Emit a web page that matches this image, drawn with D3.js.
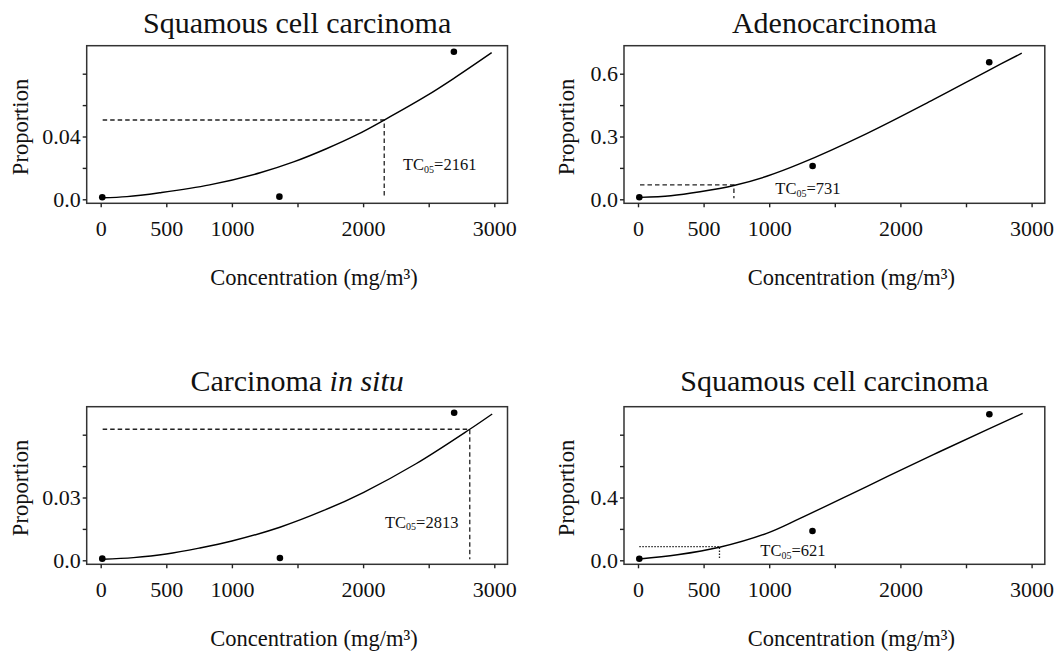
<!DOCTYPE html>
<html>
<head>
<meta charset="utf-8">
<script src="https://cdn.jsdelivr.net/npm/d3@7"></script>
<style>
  body { margin: 0; background: #fff; }
  text { font-family: "Liberation Serif", "Times New Roman", serif; fill: #111; }
</style>
</head>
<body>
<div id="chart"></div>
<script>
// shared x axis
let concTicks = [0, 500, 1000, 1500, 2000, 2500, 3000]
let concTickLabels = ['0', '500', '1000', '', '2000', '', '3000']

// panel 1 - squamous cell carcinoma (top left)
let scc1ObsConc = [12, 1362, 2692]
let scc1ObsProp = [0.0013, 0.0017, 0.094]
let scc1FitConc = [15, 200, 450, 830, 1215, 1470, 1720, 1950, 2161, 2485, 2700, 2980]
let scc1FitProp = [0.001, 0.0017, 0.0042, 0.0092, 0.0169, 0.0238, 0.0322, 0.041, 0.0505, 0.066, 0.0775, 0.0934]
let scc1YTicks = [0, 0.02, 0.04, 0.06, 0.08]
let scc1YLabels = ['0.0', '', '0.04', '', '']

// panel 2 - adenocarcinoma (top right)
let adenoObsConc = [10, 1331, 2677]
let adenoObsProp = [0.0095, 0.159, 0.655]
let adenoFitConc = [15, 250, 473, 731, 981, 1235, 1743, 2251, 2670, 2925]
let adenoFitProp = [0.009, 0.017, 0.036, 0.066, 0.11, 0.17, 0.314, 0.476, 0.615, 0.698]
let adenoYTicks = [0, 0.15, 0.3, 0.45, 0.6]
let adenoYLabels = ['0.0', '', '0.3', '', '0.6']

// panel 3 - carcinoma in situ (bottom left)
let cisObsConc = [12, 1366, 2694]
let cisObsProp = [0.0008, 0.0011, 0.0705]
let cisFitConc = [15, 250, 500, 750, 1000, 1366, 1700, 2005, 2400, 2813, 2984]
let cisFitProp = [0.0005, 0.0013, 0.003, 0.0058, 0.0092, 0.0158, 0.0238, 0.0325, 0.046, 0.0626, 0.0699]
let cisYTicks = [0, 0.015, 0.03, 0.045, 0.06]
let cisYLabels = ['0.0', '', '0.03', '', '']

// panel 4 - squamous cell carcinoma (bottom right)
let scc2ObsConc = [10, 1330, 2678]
let scc2ObsProp = [0.010, 0.187, 0.93]
let scc2FitConc = [10, 300, 621, 981, 1235, 1743, 2251, 2670, 2932]
let scc2FitProp = [0.008, 0.035, 0.083, 0.172, 0.267, 0.47, 0.673, 0.835, 0.936]
let scc2YTicks = [0, 0.2, 0.4, 0.6, 0.8]
let scc2YLabels = ['0.0', '', '0.4', '', '']

// TC05 values and the fitted proportion at that concentration
let tcValues = [2161, 731, 2813, 621]
let tcLevels = [0.0505, 0.069, 0.0626, 0.0866]

let panels = [
  { title: ['Squamous cell carcinoma'], obsX: scc1ObsConc, obsY: scc1ObsProp, fitX: scc1FitConc, fitY: scc1FitProp,
    yTicks: scc1YTicks, yLabels: scc1YLabels, ox: 0, oy: 0, titleY: 33, dash: '4.5,3', tcPos: [403, 170] },
  { title: ['Adenocarcinoma'], obsX: adenoObsConc, obsY: adenoObsProp, fitX: adenoFitConc, fitY: adenoFitProp,
    yTicks: adenoYTicks, yLabels: adenoYLabels, ox: 537.3, oy: 0, titleY: 33, dash: '4.5,3', tcPos: [238, 194.3] },
  { title: ['Carcinoma ', 'in situ'], obsX: cisObsConc, obsY: cisObsProp, fitX: cisFitConc, fitY: cisFitProp,
    yTicks: cisYTicks, yLabels: cisYLabels, ox: 0, oy: 361, titleY: 30, dash: '4.5,3', tcPos: [385, 166.7] },
  { title: ['Squamous cell carcinoma'], obsX: scc2ObsConc, obsY: scc2ObsProp, fitX: scc2FitConc, fitY: scc2FitProp,
    yTicks: scc2YTicks, yLabels: scc2YLabels, ox: 537.3, oy: 361, titleY: 30, dash: '1.5,1.5', tcPos: [223, 195] }
]

let width = 1062
let height = 652
let frame = { left: 86.7, top: 45.7, right: 507.5, bottom: 203.3 }

let svg = d3
  .select('#chart')
  .append('svg')
  .attr('width', width)
  .attr('height', height)

svg.append('rect').attr('width', width).attr('height', height).attr('fill', '#fff')

let xScale = d3.scaleLinear().domain([0, 3000]).range([100.7, 494.3])

panels.forEach((p, i) => {
  let g = svg.append('g').attr('transform', `translate(${p.ox},${p.oy})`)

  let yScale = d3
    .scaleLinear()
    .domain([0, p.yTicks[p.yTicks.length - 1]])
    .range([199.3, 73.7])

  // title
  let title = g
    .append('text')
    .attr('x', (frame.left + frame.right) / 2)
    .attr('y', p.titleY)
    .attr('text-anchor', 'middle')
    .style('font-size', '30px')
  p.title.forEach((t, j) => {
    title.append('tspan').text(t).style('font-style', j === 1 ? 'italic' : 'normal')
  })

  // frame
  g.append('rect')
    .attr('x', frame.left)
    .attr('y', frame.top)
    .attr('width', frame.right - frame.left)
    .attr('height', frame.bottom - frame.top)
    .attr('fill', 'none')
    .attr('stroke', '#333')
    .attr('stroke-width', 1.5)

  // axes
  let xAxis = d3
    .axisBottom(xScale)
    .tickValues(concTicks)
    .tickFormat((d, k) => concTickLabels[k])
    .tickSize(4)
    .tickPadding(13)

  let gx = g.append('g').attr('transform', `translate(0,${frame.bottom})`).call(xAxis)
  gx.select('.domain').remove()

  let yAxis = d3
    .axisLeft(yScale)
    .tickValues(p.yTicks)
    .tickFormat((d, k) => p.yLabels[k])
    .tickSize(4)
    .tickPadding(2)

  let gy = g.append('g').attr('transform', `translate(${frame.left},0)`).call(yAxis)
  gy.select('.domain').remove()

  g.selectAll('.tick line').attr('stroke', '#222').attr('stroke-width', 1.4)
  g.selectAll('.tick text')
    .style('font-family', '"Liberation Serif", serif')
    .style('font-size', '22px')
    .attr('fill', '#111')

  // axis titles
  g.append('text')
    .attr('x', 314)
    .attr('y', 285)
    .attr('text-anchor', 'middle')
    .style('font-size', '22.5px')
    .text('Concentration (mg/m³)')

  g.append('text')
    .attr('transform', `translate(${i % 2 === 0 ? 27.5 : 37},127) rotate(-90)`)
    .attr('text-anchor', 'middle')
    .style('font-size', '22.5px')
    .text('Proportion')

  // TC05 reference lines
  let tc = tcValues[i]
  let lvl = tcLevels[i]
  g.append('path')
    .attr('d', `M${xScale(p.fitX[0])},${yScale(lvl)}H${xScale(tc)}V${yScale(0) - 1}`)
    .attr('fill', 'none')
    .attr('stroke', '#222')
    .attr('stroke-width', 1.3)
    .attr('stroke-dasharray', p.dash)

  // fitted curve
  let line = d3
    .line()
    .x(d => xScale(d[0]))
    .y(d => yScale(d[1]))
    .curve(d3.curveCatmullRom.alpha(0.5))

  g.append('path')
    .datum(d3.zip(p.fitX, p.fitY))
    .attr('d', line)
    .attr('fill', 'none')
    .attr('stroke', '#000')
    .attr('stroke-width', 1.4)

  // observed points
  g.selectAll('.obs')
    .data(d3.zip(p.obsX, p.obsY))
    .enter()
    .append('circle')
    .attr('class', 'obs')
    .attr('cx', d => xScale(d[0]))
    .attr('cy', d => yScale(d[1]))
    .attr('r', 3.3)
    .attr('fill', '#000')

  // TC05 label
  let lab = g
    .append('text')
    .attr('x', p.tcPos[0])
    .attr('y', p.tcPos[1])
    .style('font-size', '16.5px')
  lab.append('tspan').text('TC')
  lab.append('tspan').text('05').style('font-size', '10px').attr('dy', 2.5)
  lab.append('tspan').text('=' + tc).attr('dy', -2.5)
})
</script>
</body>
</html>
